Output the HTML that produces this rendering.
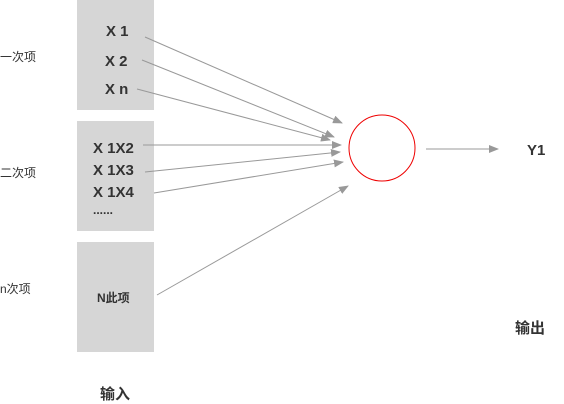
<!DOCTYPE html>
<html><head><meta charset="utf-8"><style>
body{margin:0;background:#fff;width:564px;height:402px;overflow:hidden;position:relative;font-family:"Liberation Sans","Noto Sans CJK SC",sans-serif}
.box{position:absolute;left:77px;width:77px;height:110px;background:#d6d6d6}
.t{position:absolute;font-weight:bold;font-size:15px;color:#333;white-space:nowrap}
.l{position:absolute;left:0;font-size:12px;color:#333}
</style></head><body>
<div class="box" style="top:0"></div>
<div class="box" style="top:121px"></div>
<div class="box" style="top:242px"></div>
<div class="l" style="top:48px">一次项</div>
<div class="l" style="top:164px">二次项</div>
<div class="l" style="top:280px">n次项</div>
<div class="t" style="left:106px;top:23px">X 1</div>
<div class="t" style="left:105px;top:53px">X 2</div>
<div class="t" style="left:105px;top:81px">X n</div>
<div class="t" style="left:93px;top:140px">X 1X2</div>
<div class="t" style="left:93px;top:162px">X 1X3</div>
<div class="t" style="left:93px;top:184px">X 1X4</div>
<div class="t" style="left:93px;top:203px;font-size:12px">......</div>
<div class="t" style="left:97px;top:289px;font-size:12px">N此项</div>
<div class="t" style="left:527px;top:142px">Y1</div>
<div class="t" style="left:515px;top:317px">输出</div>
<div class="t" style="left:100px;top:383px">输入</div>
<svg width="564" height="402" style="position:absolute;left:0;top:0">
<defs><marker id="a" markerWidth="10" markerHeight="8" refX="9" refY="4" orient="auto" markerUnits="userSpaceOnUse"><path d="M0,0L10,4L0,8z" fill="#999"/></marker></defs>
<g stroke="#999" stroke-width="1" marker-end="url(#a)">
<line x1="145" y1="37" x2="342" y2="123"/>
<line x1="142" y1="60" x2="334" y2="137"/>
<line x1="137" y1="89" x2="330" y2="140"/>
<line x1="143" y1="145" x2="341" y2="145"/>
<line x1="145" y1="172" x2="340" y2="152"/>
<line x1="154" y1="193" x2="343" y2="162"/>
<line x1="157" y1="295" x2="348" y2="186"/>
<line x1="426" y1="149" x2="498" y2="149"/>
</g>
<circle cx="382" cy="148" r="33" fill="none" stroke="#e00" stroke-width="1"/>
</svg>
</body></html>
